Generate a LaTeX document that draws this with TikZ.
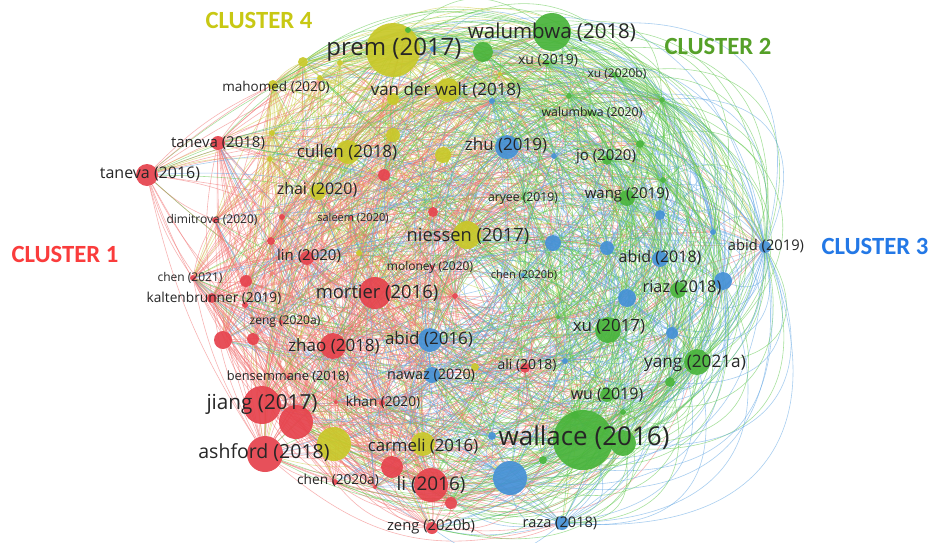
\documentclass[tikz,border=0pt]{standalone}
\usepackage{fontspec}
\setmainfont{Open Sans}
\newfontfamily\clusterfont{Carlito}
\pgfdeclarelayer{paper}
\pgfdeclarelayer{links}
\pgfsetlayers{paper,links,main}

% node fills
\definecolor{cR}{RGB}{230,66,76}
\definecolor{cY}{RGB}{200,200,40}
\definecolor{cG}{RGB}{72,180,58}
\definecolor{cB}{RGB}{68,144,214}
% link strokes
\definecolor{eR}{RGB}{242,115,115}
\definecolor{eY}{RGB}{205,205,70}
\definecolor{eG}{RGB}{95,200,75}
\definecolor{eB}{RGB}{95,165,228}
% texts
\definecolor{labgray}{RGB}{38,38,38}
\definecolor{kR}{RGB}{250,60,60}
\definecolor{kG}{RGB}{85,160,40}
\definecolor{kB}{RGB}{35,120,230}
\definecolor{kY}{RGB}{200,200,20}

\tikzset{
  dot/.style={circle, inner sep=0pt, draw=none, fill=c#1, fill opacity=0.92},
  lab/.style={text=labgray, inner sep=0pt, anchor=center},
  link/.style={draw=e#1, draw opacity=0.55, line width=0.58pt},
  clusterlab/.style={text=k#1, inner sep=0pt, anchor=center,
    font=\clusterfont\bfseries\fontsize{24.7}{26}\selectfont},
}

% name/x/y/radius/cluster/link weight
\def\nodelist{%
prem/393/50/27/Y/34, ya/303/62/5/Y/18, yb/340/63/3/Y/12, mahomed/273/85/5/Y/14,
yc/320/78/3/Y/12, vdwalt/448/90/12/Y/24, yd/393/99/6/Y/14, ye/500/74/2/Y/8,
yf/393/135/7/Y/14, cullen/348/152/12/Y/22, yg/443/155/8/Y/14, yh/272/133/3/Y/8,
yi/270/159/3/Y/8, zhai/318/192/8/Y/16, niessen/467/235/14/Y/26, yj/359/253/3/Y/10,
yk/334/444/17/Y/22, carmeli/423/444/12/Y/20, yl/475/367/4/Y/10,
taneva18/218/143/7/R/20, taneva16/147/175/11/R/16, dimitrova/215/220/3/R/14,
ra/282/217/3/R/10, saleem/351/218/2/R/8, rb/271/241/4/R/10, lin/307/258/7/R/14,
chen21/193/278/3/R/16, rc/246/281/6/R/12, kalten/212/298/5/R/14, rd/245/305/3/R/8,
zeng20a/281/322/2/R/8, re/223/340/9/R/14, rf/253/339/6/R/12, zhao/333/346/13/R/22,
mortier/375/293/16/R/24, rg/433/212/5/R/12, rh/384/175/6/R/12, moloney/432/267/2/R/8,
rhub/455/296/3/R/40, bensem/288/377/2/R/8, jiang/262/405/19/R/28, ri/296/422/17/R/24,
rj/336/402/2/R/10, khan/382/403/3/R/10, ashford/265/454/18/R/26, rk/392/467/11/R/18,
chen20a/335/482/3/R/14, rl/375/487/2/R/12, li/431/485/17/R/26, rm/451/503/6/R/16,
zeng20b/432/528/6/R/22, ali/525/368/5/R/24,
zhu/507/147/12/B/24, ba/433/49/3/B/10, bb/492/101/3/B/10, bc/554/156/3/B/12,
bd/553/243/8/B/18, be/607/248/7/B/16, bf/660/215/5/B/14, bg/713/232/3/B/16,
abid18/660/259/8/B/20, abid19/765/247/6/B/48, bh/723/281/9/B/20, bi/627/298/9/B/18,
bj/672/333/6/B/16, bk/565/361/3/B/10, abid16/430/340/12/B/22, nawaz/432/375/8/B/18,
bl/510/478/17/B/26, bm/492/436/4/B/10, raza/562/523/7/B/26, chen20b/523/275/2/B/8,
walumbwa18/552/32/19/G/30, ga/483/52/10/G/20, gb/408/30/3/G/12, xu19/547/63/3/G/14,
xu20b/615/75/3/G/14, gc/569/96/3/G/14, walumbwa20/590/113/2/G/12, gd/662/100/3/G/42,
ge/640/144/4/G/18, jo/607/160/5/G/16, aryee/523/198/2/G/8, wang/627/198/8/G/20,
gf/663/180/3/G/18, riaz/678/290/8/G/20, gg/558/317/2/G/10, xu17/608/330/13/G/24,
yang/697/362/13/G/26, gh/670/382/5/G/16, wu/607/395/7/G/18, gi/623/412/3/G/12,
wallace/583/440/30/G/34, gj/623/443/13/G/24, gk/575/415/4/G/12, gl/543/460/4/G/12}

% name/x/y/font size/text
\def\labellist{%
prem/394/50/24/prem (2017), wallace/584/438/26/wallace (2016),
walumbwa18/552/32/20.5/walumbwa (2018), vdwalt/446/90/17/van der walt (2018),
cullen/347/152/17/cullen (2018), mahomed/276/87/13.5/mahomed (2020),
taneva18/218/143/15/taneva (2018), taneva16/150/174/16/taneva (2016),
dimitrova/212/220/12/dimitrova (2020), chen21/190/278/12/chen (2021),
kalten/214/298/13.7/kaltenbrunner (2019), zeng20a/285/322/12/zeng (2020a),
lin/309/256/15/lin (2020), zhai/317/190/16/zhai (2020),
niessen/468/236/18.3/niessen (2017), saleem/353/218/11/saleem (2020),
aryee/523/199/12.2/aryee (2019), moloney/430/267/12/moloney (2020),
chen20b/524/275/11/chen (2020b), mortier/377/293/18.4/mortier (2016),
abid16/429/339/17/abid (2016), wang/627/195/15/wang (2019),
abid18/660/258/16/abid (2018), abid19/766/246/14.7/abid (2019),
riaz/682/288/16.3/riaz (2018), xu19/548/61/14/xu (2019),
xu20b/617/74/12/xu (2020b), walumbwa20/592/113/12.3/walumbwa (2020),
zhu/506/145/17/zhu (2019), jo/606/157/15/jo (2020),
zhao/334/346/17/zhao (2018), bensem/288/377/12.8/bensemmane (2018),
nawaz/431/375/14.4/nawaz (2020), jiang/262/404/20.7/jiang (2017),
khan/383/402/13.6/khan (2020), ashford/264/453/19.5/ashford (2018),
carmeli/423/446/16.8/carmeli (2016), chen20a/338/480/13.7/chen (2020a),
li/431/485/18.9/li (2016), zeng20b/431/527/14.8/zeng (2020b),
ali/527/365/14/ali (2018), yang/695/363/17.2/yang (2021a),
wu/607/395/16/wu (2019), raza/560/523/14.6/raza (2018),
xu17/609/327/16.9/xu (2017)}

\begin{document}
\begin{tikzpicture}[x=1pt,y=-1pt]
\useasboundingbox (0,0) rectangle (931,542);
\begin{pgfonlayer}{paper}
  \fill[white] (0,0) rectangle (931,542);
\end{pgfonlayer}

% publications
\foreach \n/\x/\y/\r/\cl/\w [count=\k] in \nodelist {
  \node[dot=\cl, minimum size=2pt*\r] (\n) at (\x,\y) {};
  \expandafter\xdef\csname nn\k\endcsname{\n}
  \expandafter\xdef\csname nx\k\endcsname{\x}
  \expandafter\xdef\csname ny\k\endcsname{\y}
  \expandafter\xdef\csname nc\k\endcsname{\cl}
  \expandafter\xdef\csname nw\k\endcsname{\w}
  \xdef\nodecount{\k}
}

% citation links: bowed away from the middle of the map,
% more strongly towards the right-hand side
\begin{pgfonlayer}{links}
\pgfmathsetseed{4242}
\foreach \a in {1,...,\nodecount}{
  \foreach \b in {\a,...,\nodecount}{
    \ifnum\b>\a\relax
      \edef\na{\csname nn\a\endcsname}\edef\nb{\csname nn\b\endcsname}
      \edef\xa{\csname nx\a\endcsname}\edef\ya{\csname ny\a\endcsname}
      \edef\xb{\csname nx\b\endcsname}\edef\yb{\csname ny\b\endcsname}
      \pgfmathsetmacro\dx{(\xb-\xa)/100}
      \pgfmathsetmacro\dy{(\yb-\ya)/100}
      \pgfmathsetmacro\dd{veclen(\dx,\dy)*100}
      \pgfmathsetmacro\pp{1.75*(\csname nw\a\endcsname+\csname nw\b\endcsname)*max(0,1-\dd/800)}
      \pgfmathtruncatemacro\hit{rnd*100<\pp ? 1 : 0}
      \ifnum\hit=1
        \pgfmathtruncatemacro\side{((470-\xa)/100*\dy-(290-\ya)/100*\dx)>0 ? 1 : 0}
        \pgfmathsetmacro\mx{(\xa+\xb)/2}
        \pgfmathsetmacro\my{(\ya+\yb)/2}
        \pgfmathsetmacro\dm{veclen((\mx-470)/100,(\my-290)/100)*100}
        \pgfmathsetmacro\th{max(10,min(60,20+0.12*(\mx-350)))*min(1,\dm/130)}
        \pgfmathsetmacro\lo{1+0.0125*max(0,\th-20)}
        \pgfmathtruncatemacro\pick{rnd<0.5 ? 1 : 0}
        \ifnum\pick=1 \edef\ec{\csname nc\a\endcsname}\else\edef\ec{\csname nc\b\endcsname}\fi
        \ifnum\side=1
          \draw[link=\ec] (\na) to[bend right=\th, looseness=\lo] (\nb);
        \else
          \draw[link=\ec] (\na) to[bend left=\th, looseness=\lo] (\nb);
        \fi
      \fi
    \fi
  }
}
\end{pgfonlayer}

% publication labels
\foreach \n/\x/\y/\s/\txt in \labellist {
  \node[lab, font=\fontsize{\s}{\s}\selectfont] (lab-\n) at (\x,\y) {\txt};
}

% cluster captions
\node[clusterlab=Y] (cl4) at (259,20) {CLUSTER 4};
\node[clusterlab=G] (cl2) at (718,46) {CLUSTER 2};
\node[clusterlab=R] (cl1) at (65,254) {CLUSTER 1};
\node[clusterlab=B] (cl3) at (875,246) {CLUSTER 3};
\end{tikzpicture}
\end{document}
